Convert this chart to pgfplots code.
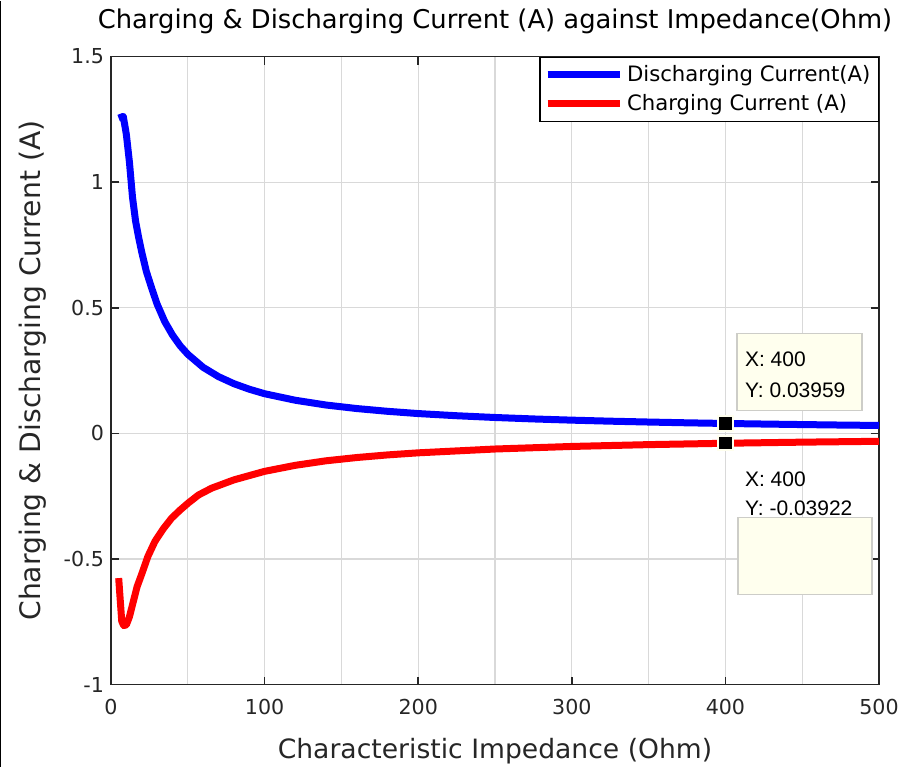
\documentclass[border=0pt]{standalone}
\usepackage{pgfplots}
\pgfplotsset{compat=1.18}
\usepackage{fontspec}
\setmainfont{DejaVu Sans}
\newfontfamily\tipfont{Liberation Sans}

\definecolor{axgray}{gray}{0.15}
\definecolor{tipfill}{RGB}{255,255,238}
\definecolor{tipedge}{RGB}{205,205,200}

\begin{document}
\begin{tikzpicture}
\begin{axis}[
    scale only axis,
    width=384pt, height=314pt,
    xmin=0, xmax=500,
    ymin=-1, ymax=1.5,
    xtick={0,100,...,500},
    ytick={-1,-0.5,0,0.5,1,1.5},
    minor xtick={50,150,...,450},
    minor ytick={},
    grid=both,
    major grid style={gray!30, line width=0.6pt},
    minor grid style={gray!30, line width=0.6pt},
    tick align=inside,
    major tick length=4pt,
    minor tick length=0pt,
    axis line style={axgray, line width=0.8pt},
    tick style={axgray, line width=0.8pt},
    /pgf/number format/assume math mode=true,
    ticklabel style={font=\fontsize{10.3}{12}\selectfont, text=axgray},
    yticklabel style={/pgf/number format/fixed},
    xticklabel style={yshift=-4pt},
    title={Charging \& Discharging Current (A) against Impedance(Ohm)},
    title style={font=\fontsize{12.9}{15}\selectfont, text=black, yshift=2pt},
    xlabel={Characteristic Impedance (Ohm)},
    ylabel={Charging \& Discharging Current (A)},
    xlabel style={font=\fontsize{13.3}{16}\selectfont, text=axgray, yshift=-4.5pt},
    ylabel style={font=\fontsize{14.1}{16}\selectfont, text=axgray, yshift=2pt},
    legend style={at={(1,1)}, anchor=north east, draw=black, line width=0.6pt,
        font=\fontsize{10.6}{13}\selectfont, inner sep=2pt,
        legend cell align=left, row sep=1pt},
    legend image code/.code={\draw[#1, line width=3.5pt] (0pt,0pt) -- (36pt,0pt);},
]

\addplot[blue, line width=3.5pt, line join=round] coordinates {
    (5,1.255) (8,1.262) (10,1.19) (12,1.08) (14,0.94) (16,0.845) (18,0.78)
    (20,0.722) (23,0.645) (26.5,0.578) (30,0.515) (35,0.445) (40,0.392)
    (45,0.349) (50,0.315) (60,0.263) (70,0.226) (80,0.198) (90,0.176)
    (100,0.158) (120,0.132) (140,0.113) (160,0.099) (180,0.088) (200,0.079)
    (225,0.0704) (250,0.0634) (275,0.0576) (300,0.0528) (325,0.0487)
    (350,0.0453) (375,0.0422) (400,0.03959) (425,0.0373) (450,0.0352)
    (475,0.0333) (500,0.0317)
};
\addlegendentry{Discharging Current(A)}

\addplot[red, line width=3.5pt, line join=round] coordinates {
    (5,-0.576) (7,-0.748) (8.3,-0.765) (10,-0.762) (12,-0.73) (14.5,-0.67) (17,-0.61)
    (20,-0.56) (24,-0.49) (28.6,-0.43) (34,-0.38) (39.5,-0.337) (45,-0.305)
    (50.3,-0.277) (57,-0.245) (65.5,-0.218) (80,-0.185) (100,-0.151)
    (120,-0.127) (140,-0.109) (160,-0.096) (180,-0.0856) (200,-0.0773)
    (250,-0.0621) (300,-0.0519) (350,-0.0446) (400,-0.03922) (450,-0.0348)
    (500,-0.0314)
};
\addlegendentry{Charging Current (A)}

% data tips
\addplot[only marks, mark=square*, mark size=3.6pt, forget plot,
    mark options={fill=black, draw=tipfill, line width=1pt}] coordinates {
    (400,0.03959) (400,-0.03922)
};

\draw[tipedge, fill=tipfill, line width=0.8pt]
    (axis cs:407.6,0.398) rectangle (axis cs:489,0.0916);
\node[anchor=west, font=\tipfont\fontsize{10.5}{12}\selectfont, inner sep=0pt]
    at (axis cs:412.5,0.297) {X: 400};
\node[anchor=west, font=\tipfont\fontsize{10.5}{12}\selectfont, inner sep=0pt]
    at (axis cs:412.5,0.170) {Y: 0.03959};
\node[anchor=west, font=\tipfont\fontsize{10.5}{12}\selectfont, inner sep=0pt]
    at (axis cs:412.5,-0.183) {X: 400};
\node[anchor=west, font=\tipfont\fontsize{10.5}{12}\selectfont, inner sep=0pt]
    at (axis cs:412.5,-0.297) {Y: -0.03922};
\draw[tipedge, fill=tipfill, line width=0.8pt]
    (axis cs:408.2,-0.334) rectangle (axis cs:495.4,-0.641);
\end{axis}
\pgfresetboundingbox
\path (current axis.south west) ++(-55.5pt,-41pt) coordinate (bbsw);
\path (current axis.north east) ++(13pt,28pt) coordinate (bbne);
\path (bbsw) rectangle (bbne);
\draw[black, line width=0.6pt] ([xshift=0.3pt]bbsw) -- ([xshift=0.3pt]bbsw |- bbne);
\end{tikzpicture}
\end{document}
